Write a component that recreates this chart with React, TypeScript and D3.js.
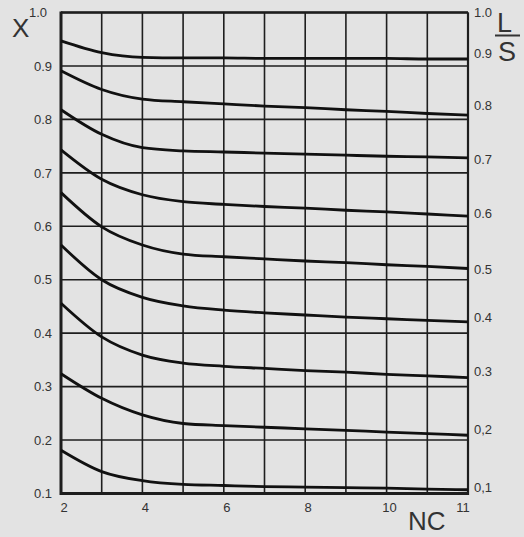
import React from "react";
import * as d3 from "d3";

const W = 524;
const H = 537;

// x grid positions (uniform spacing); the last grid position is labelled "11" in the original
const xGrid = [2, 3, 4, 5, 6, 7, 8, 9, 10, 11, 12];
const xTickLabels = ["2", "", "4", "", "6", "", "8", "", "10", "", "11"];
const yGrid = [0.1, 0.2, 0.3, 0.4, 0.5, 0.6, 0.7, 0.8, 0.9, 1.0];
const yTickLabels = ["0.1", "0.2", "0.3", "0.4", "0.5", "0.6", "0.7", "0.8", "0.9", "1.0"];

// L/S curve labels (right side) and their positions in X units
const lsLabels = ["0,1", "0,2", "0.3", "0.4", "0.5", "0.6", "0.7", "0.8", "0.9", "1.0"];
const lsLabelY = [0.112, 0.22, 0.328, 0.43, 0.52, 0.625, 0.725, 0.826, 0.9235, 1.0];

const xs = [2, 3, 4, 5, 6, 7, 8, 9, 10, 11, 12];
const curveLS01 = [0.181, 0.141, 0.124, 0.117, 0.115, 0.113, 0.112, 0.111, 0.11, 0.108, 0.107];
const curveLS02 = [0.324, 0.278, 0.247, 0.231, 0.227, 0.224, 0.221, 0.218, 0.215, 0.212, 0.209];
const curveLS03 = [0.456, 0.393, 0.359, 0.344, 0.338, 0.334, 0.33, 0.327, 0.323, 0.32, 0.317];
const curveLS04 = [0.565, 0.5, 0.467, 0.451, 0.443, 0.438, 0.434, 0.43, 0.427, 0.424, 0.421];
const curveLS05 = [0.663, 0.599, 0.565, 0.548, 0.543, 0.539, 0.535, 0.532, 0.528, 0.525, 0.521];
const curveLS06 = [0.743, 0.688, 0.659, 0.646, 0.641, 0.637, 0.634, 0.63, 0.627, 0.623, 0.619];
const curveLS07 = [0.818, 0.772, 0.747, 0.741, 0.739, 0.737, 0.735, 0.733, 0.731, 0.73, 0.728];
const curveLS08 = [0.891, 0.856, 0.838, 0.833, 0.829, 0.825, 0.822, 0.818, 0.815, 0.811, 0.808];
const curveLS09 = [0.947, 0.925, 0.916, 0.915, 0.915, 0.914, 0.914, 0.914, 0.914, 0.913, 0.913];

const curves = [curveLS01, curveLS02, curveLS03, curveLS04, curveLS05, curveLS06, curveLS07, curveLS08, curveLS09];

export default function App() {
  const x = d3.scaleLinear().domain([2, 12]).range([61, 468]);
  const y = d3.scaleLinear().domain([0.1, 1.0]).range([493.5, 12.5]);
  const line = d3
    .line<[number, number]>()
    .x((d) => x(d[0]))
    .y((d) => y(d[1]))
    .curve(d3.curveMonotoneX);

  const font = "'Liberation Sans', Arial, sans-serif";
  const ink = "#1e1e1e";
  const textInk = "#333";

  return (
    <svg
      width={W}
      height={H}
      style={{ position: "absolute", left: 0, top: 0, background: "#e3e3e3" }}
      fontFamily={font}
    >
      <rect x={0} y={0} width={W} height={H} fill="#e3e3e3" />
      {/* grid */}
      {xGrid.map((v, i) => (
        <line key={"gx" + i} x1={x(v)} x2={x(v)} y1={y(1.0)} y2={y(0.1)} stroke={ink} strokeWidth={1.6} />
      ))}
      {yGrid.map((v, i) => (
        <line key={"gy" + i} x1={x(2)} x2={x(12)} y1={y(v)} y2={y(v)} stroke={ink} strokeWidth={1.6} />
      ))}
      {/* frame */}
      <line x1={x(2)} x2={x(2)} y1={y(1.0) - 1} y2={y(0.1) + 1.5} stroke={ink} strokeWidth={3} />
      <line x1={x(2)} x2={x(12)} y1={y(1.0)} y2={y(1.0)} stroke={ink} strokeWidth={2.4} />
      <line x1={x(2)} x2={x(12) + 1} y1={y(0.1)} y2={y(0.1)} stroke={ink} strokeWidth={3} />
      <line x1={x(12)} x2={x(12)} y1={y(1.0)} y2={y(0.1) + 1.5} stroke={ink} strokeWidth={2.2} />
      {/* curves */}
      {curves.map((c, i) => (
        <path
          key={"c" + i}
          d={line(xs.map((v, j) => [v, c[j]] as [number, number])) || ""}
          fill="none"
          stroke="#111"
          strokeWidth={2.8}
        />
      ))}
      {/* left tick labels */}
      {yGrid.map((v, i) => (
        <text
          key={"yl" + i}
          x={v === 1.0 ? 47 : 52}
          y={y(v)}
          dy="0.36em"
          textAnchor="end"
          fontSize={13}
          fill={textInk}
        >
          {yTickLabels[i]}
        </text>
      ))}
      {/* bottom tick labels */}
      {xGrid.map((v, i) =>
        xTickLabels[i] ? (
          <text
            key={"xl" + i}
            x={x(v) + (i === xGrid.length - 1 ? -5 : 3)}
            y={512}
            textAnchor="middle"
            fontSize={13}
            fill={textInk}
          >
            {xTickLabels[i]}
          </text>
        ) : null
      )}
      {/* right L/S labels */}
      {lsLabels.map((s, i) => (
        <text key={"rl" + i} x={474} y={y(lsLabelY[i])} dy="0.36em" fontSize={13} fill={textInk}>
          {s}
        </text>
      ))}
      {/* axis titles */}
      <text x={12} y={37} fontSize={26} fill={textInk}>
        X
      </text>
      <text x={408} y={530} fontSize={26} fill={textInk}>
        NC
      </text>
      <text x={497} y={32} fontSize={27} fill={textInk}>
        L
      </text>
      <line x1={495} x2={520} y1={35.5} y2={35.5} stroke={textInk} strokeWidth={2} />
      <text x={498} y={61} fontSize={27} fill={textInk}>
        S
      </text>
    </svg>
  );
}
